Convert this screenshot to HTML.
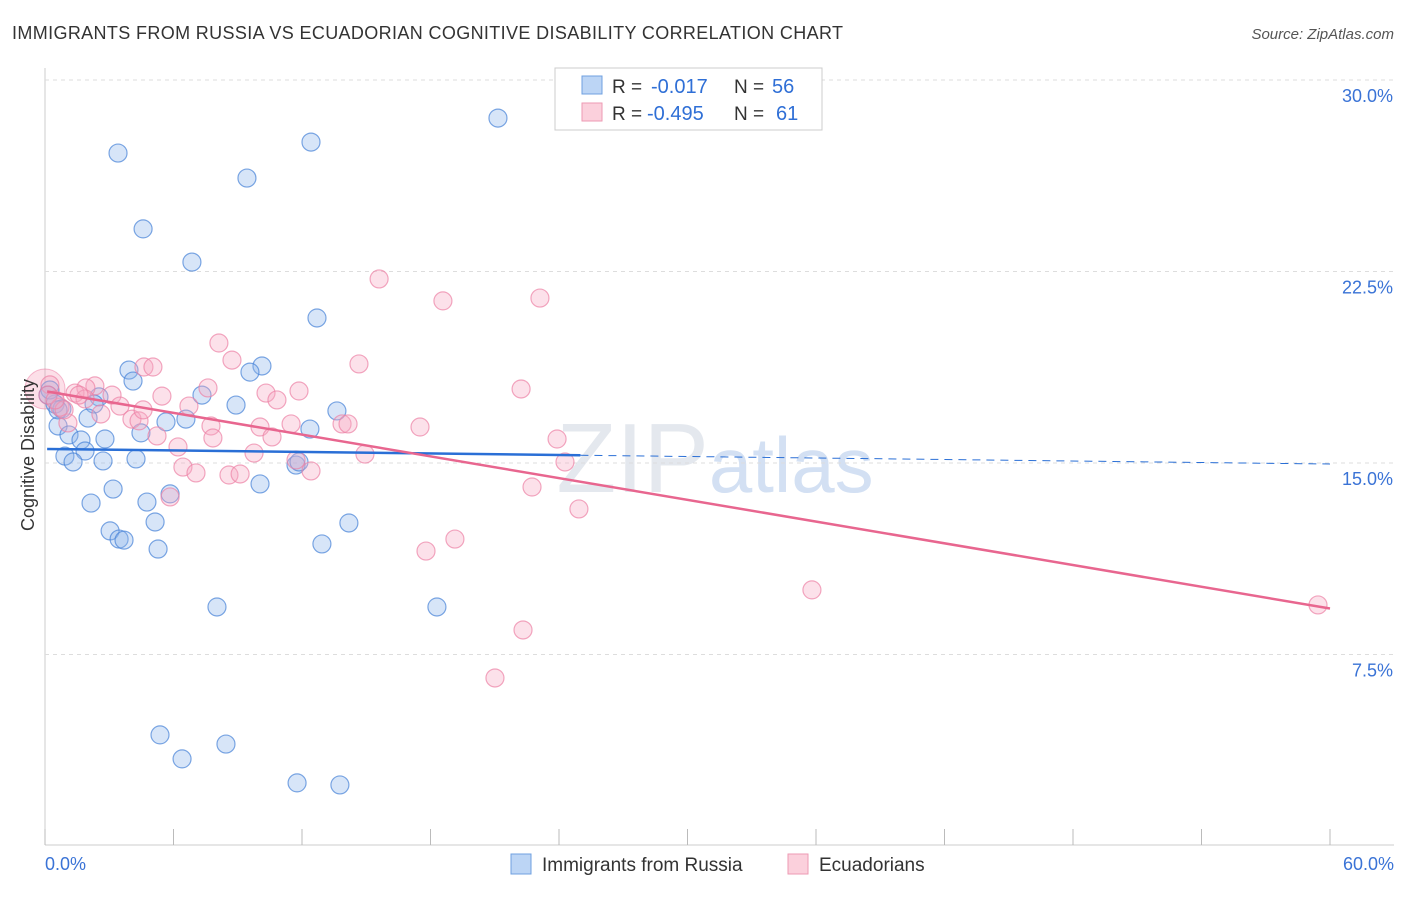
<!DOCTYPE html>
<html><head><meta charset="utf-8"><style>
body{margin:0;background:#fff;font-family:"Liberation Sans",sans-serif}
svg text{font-family:"Liberation Sans",sans-serif}
</style></head><body>
<svg id="chart" width="1406" height="892">
<text x="12" y="39" font-size="18" fill="#333" textLength="831">IMMIGRANTS FROM RUSSIA VS ECUADORIAN COGNITIVE DISABILITY CORRELATION CHART</text>
<text x="1394" y="39" font-size="15" fill="#555" text-anchor="end" font-style="italic">Source: ZipAtlas.com</text>
<text x="715" y="492" font-size="98" fill="#e4e8ee" text-anchor="middle" font-family="Liberation Serif">ZIP<tspan fill="#d3e0f3" font-family="Liberation Sans" font-size="78">atlas</tspan></text>
<g id="grid"></g><g id="pts"></g><g id="lines"></g>
<text transform="translate(34,455) rotate(-90)" font-size="18" fill="#333" text-anchor="middle">Cognitive Disability</text>
<g>
<rect x="555" y="68" width="267" height="62" fill="#fff" stroke="#ccc"/>
<rect x="582" y="76" width="20" height="18" fill="#bcd5f5" stroke="#6fa0e0"/>
<rect x="582" y="103" width="20" height="18" fill="#fbd0dc" stroke="#ee9ab3"/>
<text x="612" y="93" font-size="19" fill="#333">R =</text><text x="651" y="93" font-size="20" fill="#2f6fd6">-0.017</text>
<text x="734" y="93" font-size="19" fill="#333">N =</text><text x="772" y="93" font-size="20" fill="#2f6fd6">56</text>
<text x="612" y="120" font-size="19" fill="#333">R =</text><text x="647" y="120" font-size="20" fill="#2f6fd6">-0.495</text>
<text x="734" y="120" font-size="19" fill="#333">N =</text><text x="776" y="120" font-size="20" fill="#2f6fd6">61</text>
</g>
<g>
<rect x="511" y="854" width="20" height="20" fill="#bcd5f5" stroke="#6fa0e0"/>
<text x="542" y="871" font-size="19" fill="#333">Immigrants from Russia</text>
<rect x="788" y="854" width="20" height="20" fill="#fbd0dc" stroke="#ee9ab3"/>
<text x="819" y="871" font-size="19" fill="#333">Ecuadorians</text>
</g>
</svg>
<script>
const bluePx=[[498,118],[118,153],[311,142],[247,178],[143,229],[192,262],[317,318],[262,366],[129,370],[250,372],[133,381],[202,395],[236,405],[99,397],[94,404],[55,404],[62,409],[88,418],[337,411],[186,419],[166,422],[58,426],[141,433],[310,429],[69,435],[81,440],[105,439],[85,451],[65,456],[73,462],[103,461],[136,459],[296,465],[299,462],[113,489],[170,494],[91,503],[147,502],[260,484],[155,522],[349,523],[110,531],[119,539],[124,540],[158,549],[322,544],[217,607],[437,607],[160,735],[226,744],[182,759],[297,783],[340,785],[50,390],[48,395],[58,410]];
const pinkPx=[[379,279],[443,301],[540,298],[219,343],[359,364],[232,360],[144,367],[153,367],[521,389],[299,391],[95,386],[208,388],[266,393],[86,388],[75,393],[112,395],[162,396],[277,400],[120,406],[189,406],[101,414],[68,423],[132,419],[139,421],[211,426],[260,427],[291,424],[342,424],[348,424],[420,427],[157,436],[213,438],[272,437],[557,439],[178,447],[254,453],[365,454],[565,462],[183,467],[196,473],[229,475],[240,474],[311,471],[532,487],[170,497],[579,509],[455,539],[426,551],[812,590],[523,630],[495,678],[1318,605],[50,385],[48,395],[60,407],[64,410],[85,399],[79,395],[296,460],[143,410],[55,400]];
const blueXs=bluePx.map(p=>+((p[0]-45)/1285*60).toFixed(2));
const blueYs=bluePx.map(p=>+(15+(463-p[1])/25.53).toFixed(2));
const pinkXs=pinkPx.map(p=>+((p[0]-45)/1285*60).toFixed(2));
const pinkYs=pinkPx.map(p=>+(15+(463-p[1])/25.53).toFixed(2));
const yTicks=[7.5,15,22.5,30];
const yTickLabels=["7.5%","15.0%","22.5%","30.0%"];
const blueTrend=[15.55,14.96];
const pinkTrend=[17.8,9.3];
const X=v=>45+v/60*1285, Y=v=>463-(v-15)*25.53;
const NS="http://www.w3.org/2000/svg";
function mk(t,a,parent){const e=document.createElementNS(NS,t);for(const k in a)e.setAttribute(k,a[k]);parent.appendChild(e);return e;}
const grid=document.getElementById('grid');
mk('line',{x1:45,y1:68,x2:45,y2:845,stroke:'#ccc'},grid);
mk('line',{x1:45,y1:845,x2:1394,y2:845,stroke:'#ccc'},grid);
yTicks.forEach((t,i)=>{
 const l=mk('line',{x1:45,y1:Y(t),x2:1394,y2:Y(t),stroke:'#ddd','stroke-dasharray':'4,4'},grid);
 
 
 const tx=mk('text',{x:1393,y:Y(t)+22,'font-size':18,fill:'#3a73d6','text-anchor':'end'},grid);
 tx.textContent=yTickLabels[i];
 
 
});
for(let i=0;i<=10;i++){const x=X(i*6);mk('line',{x1:x,y1:829,x2:x,y2:845,stroke:'#bbb'},grid);}
const xl=mk('text',{x:45,y:870,'font-size':18,fill:'#3a73d6'},grid);xl.textContent='0.0%';

const xr=mk('text',{x:1394,y:870,'font-size':18,fill:'#3a73d6','text-anchor':'end'},grid);xr.textContent='60.0%';

const pts=document.getElementById('pts');
let b=mk('circle',{cx:X(0),cy:Y(17.9),r:20,fill:'rgba(244,150,180,0.3)',stroke:'rgba(236,120,160,0.5)'},pts);

blueXs.forEach((x,i)=>{const c=mk('circle',{cx:X(x),cy:Y(blueYs[i]),r:9,fill:'rgba(140,180,235,0.35)',stroke:'rgba(70,130,215,0.7)','stroke-width':1.2},pts);
 
 });
pinkXs.forEach((x,i)=>{const c=mk('circle',{cx:X(x),cy:Y(pinkYs[i]),r:9,fill:'rgba(246,170,195,0.35)',stroke:'rgba(236,130,165,0.7)','stroke-width':1.2},pts);
 
 });
const lines=document.getElementById('lines');
const bm=(x)=>blueTrend[0]+(blueTrend[1]-blueTrend[0])*x/60;
let l1=mk('line',{x1:X(0.1),y1:Y(bm(0.1)),x2:X(25),y2:Y(bm(25)),stroke:'#2a6fd6','stroke-width':2.5},lines);

let l2=mk('line',{x1:X(25),y1:Y(bm(25)),x2:X(60),y2:Y(bm(60)),stroke:'#2a6fd6','stroke-width':1,'stroke-dasharray':'8,6'},lines);

let l3=mk('line',{x1:X(0.1),y1:Y(pinkTrend[0]),x2:X(60),y2:Y(pinkTrend[1]),stroke:'#e8668f','stroke-width':2.5},lines);

</script>
</body></html>
